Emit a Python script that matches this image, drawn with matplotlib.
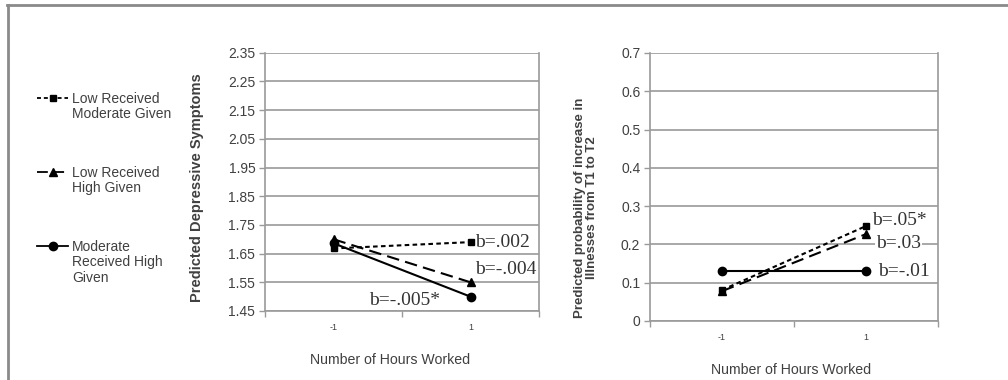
import matplotlib
matplotlib.use("Agg")
import matplotlib.pyplot as plt
from matplotlib.lines import Line2D

# ---------------- data ----------------
x_labels = ["-1", "1"]
series_names = ["Low Received\nModerate Given",
                "Low Received\nHigh Given",
                "Moderate\nReceived High\nGiven"]
depressive = {
    "low_mod": [1.668, 1.690],
    "low_high": [1.700, 1.550],
    "mod_high": [1.686, 1.500],
}
illness = {
    "low_mod": [0.081, 0.248],
    "low_high": [0.078, 0.227],
    "mod_high": [0.130, 0.130],
}
dep_ticks = [1.45, 1.55, 1.65, 1.75, 1.85, 1.95, 2.05, 2.15, 2.25, 2.35]
ill_ticks = [0, 0.1, 0.2, 0.3, 0.4, 0.5, 0.6, 0.7]
dep_slopes = ["b=.002", "b=-.004", "b=-.005*"]
ill_slopes = ["b=.05*", "b=.03", "b=-.01"]

# ---------------- style ----------------
plt.rcParams['font.family'] = ['Liberation Sans', 'DejaVu Sans']
TXT = '#404040'
GRID = '#9a9a9a'
keys = ["low_mod", "low_high", "mod_high"]
styles = {
    "low_mod": dict(ls=(0, (2.2, 1.6)), marker='s', ms=5.0),
    "low_high": dict(ls=(0, (6, 3)), marker='^', ms=5.5),
    "mod_high": dict(ls='-', marker='o', ms=6.0),
}

W, H = 1008, 380
fig = plt.figure(figsize=(W / 100, H / 100), dpi=100)


def fx(px):
    return px / W


def fy(py):
    return 1 - py / H


# figure frame lines (top and left)
fig.add_artist(Line2D([fx(7), 1], [fy(5), fy(5)], color='#8a8a8a', lw=2.0))
fig.add_artist(Line2D([fx(7.5), fx(7.5)], [fy(5), 0], color='#8a8a8a', lw=2.0))


def setup_axes(ax, ticks, lo, hi, fmt):
    ax.set_xlim(-0.5, 1.5)
    ax.set_ylim(lo, hi)
    ax.set_yticks(ticks)
    ax.set_yticklabels([fmt(t) for t in ticks], fontsize=10, color=TXT)
    ax.yaxis.grid(True, color=GRID, lw=1.2)
    ax.set_axisbelow(True)
    ax.set_xticks([-0.5, 0.5, 1.5])
    ax.set_xticklabels([])
    ax.set_xticks([0, 1], minor=True)
    ax.set_xticklabels(x_labels, minor=True, fontsize=6.5, color=TXT)
    ax.tick_params(axis='x', which='minor', length=0, pad=9)
    ax.tick_params(axis='x', which='major', length=4, color=GRID, width=1)
    ax.tick_params(axis='y', length=4, color=GRID, width=1, pad=3)
    for s in ['left', 'bottom', 'right']:
        ax.spines[s].set_color(GRID)
        ax.spines[s].set_linewidth(1.2)
    ax.spines['top'].set_visible(False)


def draw_series(ax, data):
    for k in keys:
        st = styles[k]
        ax.plot([0, 1], data[k], color='black', lw=1.5, ls=st['ls'],
                marker=st['marker'], ms=st['ms'], markeredgecolor='black',
                markerfacecolor='black', clip_on=False, zorder=3)


# ---------------- left chart ----------------
ax1 = fig.add_axes([fx(265), fy(311), fx(539 - 265), (311 - 52.7) / H])
setup_axes(ax1, dep_ticks, 1.45, 2.35, lambda t: f"{t:.2f}")
draw_series(ax1, depressive)
serif = dict(family='Liberation Serif', fontsize=14, color='#333333')
ax1.annotate(dep_slopes[0], xy=(1, depressive["low_mod"][1]), xytext=(5, 0),
             textcoords='offset pixels', ha='left', va='center', **serif)
ax1.annotate(dep_slopes[1], xy=(1, depressive["low_high"][1]), xytext=(5, 13),
             textcoords='offset pixels', ha='left', va='center', **serif)
ax1.annotate(dep_slopes[2], xy=(1, depressive["mod_high"][1]), xytext=(-30, -4),
             textcoords='offset pixels', ha='right', va='center', **serif)
fig.text(fx(390), fy(360), "Number of Hours Worked", ha='center', va='center',
         fontsize=10.2, color=TXT)
fig.text(fx(197), fy(188), "Predicted Depressive Symptoms", rotation=90,
         ha='center', va='center', fontsize=10.5, fontweight='bold', color=TXT)

# ---------------- right chart ----------------
ax2 = fig.add_axes([fx(650), fy(321), fx(938 - 650), (321 - 53) / H])
setup_axes(ax2, ill_ticks, 0, 0.7, lambda t: f"{t:g}")
draw_series(ax2, illness)
ax2.annotate(ill_slopes[0], xy=(1, illness["low_mod"][1]), xytext=(6, 6),
             textcoords='offset pixels', ha='left', va='center', **serif)
ax2.annotate(ill_slopes[1], xy=(1, illness["low_high"][1]), xytext=(10, -9),
             textcoords='offset pixels', ha='left', va='center',
             bbox=dict(facecolor='white', edgecolor='none', pad=1), **serif)
ax2.annotate(ill_slopes[2], xy=(1, illness["mod_high"][1]), xytext=(12, 0),
             textcoords='offset pixels', ha='left', va='center', **serif)
fig.text(fx(791), fy(370), "Number of Hours Worked", ha='center', va='center',
         fontsize=10.2, color=TXT)
fig.text(fx(586), fy(207.5),
         "Predicted probability of increase in\nIllnesses from T1 to T2",
         rotation=90, ha='center', va='center', fontsize=9.5, fontweight='bold',
         color=TXT, linespacing=1.1, multialignment='center')

# ---------------- legend ----------------
leg_y = [98, 172, 246]
for k, name, y in zip(keys, series_names, leg_y):
    st = styles[k]
    fig.add_artist(Line2D([fx(37), fx(68)], [fy(y), fy(y)], color='black', lw=1.3,
                          ls=st['ls']))
    fig.add_artist(Line2D([fx(52.5)], [fy(y)], color='black', marker=st['marker'],
                          ms=st['ms'], ls='none'))
    fig.text(fx(72), fy(y - 6), name, ha='left', va='top', fontsize=10,
             color=TXT, linespacing=1.12)

fig.savefig("out.png", dpi=100)
